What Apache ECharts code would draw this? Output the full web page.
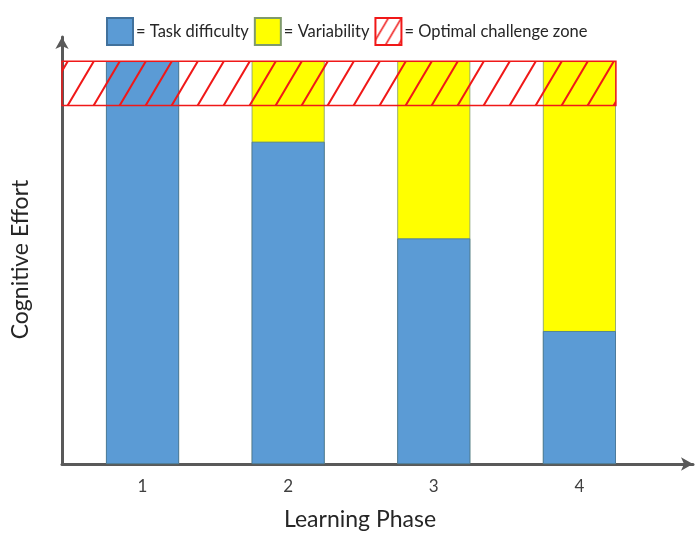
<!DOCTYPE html>
<html>
<head>
<meta charset="utf-8">
<script src="https://cdn.jsdelivr.net/npm/echarts@6/dist/echarts.min.js"></script>
<style>
  html, body { margin: 0; padding: 0; background: #fff; }
  #chart { width: 695px; height: 536px; }
</style>
</head>
<body>
<div id="chart"></div>
<script>
// Learning phases and the effort split in each
const phases = [1, 2, 3, 4];
const taskDifficulty = [100, 80, 56, 33];
const variability = [0, 20, 44, 67];
// Band of cognitive effort that stays optimally challenging
const optimalZone = [89, 100];

const FONT = 'Lato, "Open Sans", sans-serif';
const BAR_PX = 73;
const X_MIN = 0.447, X_MAX = 4.78;
const GRID_LEFT = 62, GRID_RIGHT = 2;
const CHART_W = 695;
const unitPx = (CHART_W - GRID_LEFT - GRID_RIGHT) / (X_MAX - X_MIN);
const zoneEnd = phases[phases.length - 1] + (BAR_PX / 2) / unitPx;
// Top of each column: difficulty with variability stacked above it
const totals = phases.map((p, i) => taskDifficulty[i] + variability[i]);

// Diagonal red hatch tile
function hatchTile(w, h, lw) {
  const c = document.createElement('canvas');
  c.width = w; c.height = h;
  const ctx = c.getContext('2d');
  ctx.strokeStyle = '#f01818';
  ctx.lineWidth = lw;
  ctx.beginPath();
  ctx.moveTo(-w, 2 * h); ctx.lineTo(2 * w, -h);
  ctx.moveTo(-2 * w, 2 * h); ctx.lineTo(w, -h);
  ctx.moveTo(0, 2 * h); ctx.lineTo(3 * w, -h);
  ctx.stroke();
  return c;
}
const hatch = { image: hatchTile(26, 44, 2), repeat: 'repeat' };
const hatchSmall = { image: hatchTile(13, 22, 1.5), repeat: 'repeat' };

const chart = echarts.init(document.getElementById('chart'));
chart.setOption({
  animation: false,
  legend: {
    left: 101, top: 12,
    itemWidth: 26, itemHeight: 27, itemGap: 5,
    icon: 'rect',
    formatter: n => '= ' + n,
    textStyle: { fontFamily: FONT, fontSize: 16.5, color: '#262626', padding: [0, 0, 0, -2] },
    data: ['Task difficulty', 'Variability', 'Optimal challenge zone']
  },
  grid: { left: GRID_LEFT, right: GRID_RIGHT, top: 37, bottom: 71 },
  xAxis: {
    type: 'value', min: X_MIN, max: X_MAX,
    splitLine: { show: false },
    axisTick: { show: false },
    axisLine: { lineStyle: { color: '#595959', width: 3 }, symbol: ['none', 'arrow'], symbolSize: [10, 12] },
    axisLabel: {
      customValues: phases, margin: 14,
      fontFamily: FONT, fontSize: 17, color: '#404040'
    },
    name: 'Learning Phase', nameLocation: 'middle', nameGap: 44,
    nameTextStyle: { fontFamily: FONT, fontSize: 23, color: '#262626', padding: [0, 35, 0, 0] }
  },
  yAxis: {
    type: 'value', min: 0, max: 106,
    splitLine: { show: false },
    axisTick: { show: false },
    axisLabel: { show: false },
    axisLine: { show: true, lineStyle: { color: '#595959', width: 3 }, symbol: ['none', 'arrow'], symbolSize: [10, 12] },
    name: 'Cognitive Effort', nameLocation: 'middle', nameGap: 30,
    nameTextStyle: { fontFamily: FONT, fontSize: 23, color: '#262626', padding: [0, 18, 0, 0] }
  },
  series: [
    {
      name: 'Task difficulty', type: 'bar', barWidth: BAR_PX, barGap: '-100%', z: 3,
      itemStyle: { color: '#5b9bd5', borderColor: '#41719c', borderWidth: 0.8 },
      data: phases.map((p, i) => [p, taskDifficulty[i]])
    },
    {
      name: 'Variability', type: 'bar', barWidth: BAR_PX, barGap: '-100%', z: 2,
      itemStyle: { color: '#ffff00', borderColor: '#7f9a6c', borderWidth: 0.8 },
      data: phases.map((p, i) => [p, totals[i]])
    },
    {
      name: 'Optimal challenge zone', type: 'line', symbol: 'none',
      itemStyle: { color: hatchSmall, borderColor: '#f01818', borderWidth: 1.5 },
      lineStyle: { width: 0 },
      data: [],
      z: 5,
      markArea: {
        silent: true,
        z: 10,
        itemStyle: { color: hatch, borderColor: '#f01818', borderWidth: 1.5 },
        data: [[{ xAxis: X_MIN, yAxis: optimalZone[0] }, { xAxis: zoneEnd, yAxis: optimalZone[1] }]]
      }
    }
  ]
});
</script>
</body>
</html>
